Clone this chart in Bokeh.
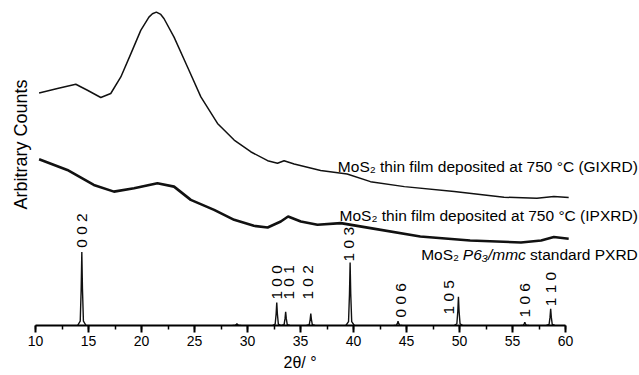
import math
from bokeh.plotting import figure
from bokeh.models import Range1d, SingleIntervalTicker, Title
from bokeh.core.properties import value
from bokeh.embed import file_html
from bokeh.resources import INLINE

# ---------------- data (2-theta in degrees, arbitrary counts) ----------------
gix_theta = [10.34, 12.07, 13.8, 14.9, 16.16, 17.1, 18.05, 19.0, 19.93, 20.7, 21.03,
             21.4, 21.82, 22.13, 23.07, 24.34, 25.6, 27.17, 28.74, 30.3, 31.9, 32.83,
             33.45, 34.4, 36.9, 39.4, 41.6, 44.8, 49.5, 54.2, 57.3, 58.9, 60.3]
gix_counts = [233.3, 237.7, 242.0, 236.0, 228.7, 232.7, 249.3, 272.7, 296.0, 309.3, 312.7,
              314.3, 312.0, 307.7, 289.3, 259.3, 229.3, 202.7, 186.0, 174.3, 165.3, 162.7,
              165.3, 162.0, 155.5, 152.0, 144.3, 139.3, 134.3, 128.7, 127.7, 129.3, 128.3]

ipx_theta = [10.34, 13.0, 15.5, 17.4, 19.3, 21.5, 23.07, 24.65, 26.85, 28.74, 30.6, 31.9,
             33.14, 33.83, 35.03, 36.6, 38.8, 41.6, 46.3, 51.0, 55.8, 57.7, 58.9, 60.3]
ipx_counts = [166.7, 156.0, 141.0, 134.3, 137.7, 142.7, 139.3, 126.0, 116.0, 106.0, 100.0, 98.3,
              104.3, 109.3, 104.3, 101.0, 102.7, 97.7, 89.3, 85.3, 83.3, 85.3, 88.7, 87.0]

std_theta = [14.37, 29.0, 32.76, 33.6, 35.97, 39.68, 44.2, 49.9, 56.16, 58.6]
std_height = [73.7, 2.0, 23.0, 13.7, 12.0, 63.3, 4.3, 28.7, 3.3, 16.7]

hkl_labels = ["0 0 2", "1 0 0", "1 0 1", "1 0 2", "1 0 3", "0 0 6", "1 0 5", "1 0 6", "1 1 0"]
hkl_label_theta = [14.32, 32.72, 33.85, 35.64, 39.56, 44.46, 49.0, 56.1, 58.62]
hkl_label_base = [78.0, 26.0, 26.0, 26.0, 64.3, 8.0, 11.0, 8.0, 19.3]

x_tick_interval = 5
x_axis_bounds = (10, 60)

# ---------------- figure ----------------
W, H = 639, 375
FONT = "Liberation Sans"
p = figure(width=W, height=H, output_backend="svg", toolbar_location=None,
           x_range=Range1d(10.0, 66.98), y_range=Range1d(0, 326),
           y_axis_location=None,
           min_border_left=35, min_border_right=0,
           min_border_top=0, min_border_bottom=49)
p.outline_line_color = None
p.xgrid.visible = False
p.ygrid.visible = False
p.background_fill_color = "white"
p.border_fill_color = "white"

ax = p.xaxis[0]
ax.ticker = SingleIntervalTicker(interval=x_tick_interval, num_minor_ticks=2)
ax.bounds = x_axis_bounds
ax.axis_line_width = 2
ax.axis_line_color = "black"
ax.major_tick_in = 0
ax.major_tick_out = 7
ax.major_tick_line_width = 2
ax.minor_tick_in = 0
ax.minor_tick_out = 4
ax.minor_tick_line_width = 1.5
ax.major_label_text_font = FONT
ax.major_label_text_font_size = "14px"
ax.major_label_text_color = "black"
ax.major_label_standoff = 3

# axis titles as side-panel titles (positioned along the axis)
p.add_layout(Title(text="2\u03b8/ \u00b0", align="left", offset=248, vertical_align="middle",
                   standoff=8, text_font=FONT, text_font_size="16px",
                   text_font_style="normal", text_color="black"), "below")
p.add_layout(Title(text="Arbitrary Counts", align="left", offset=116, vertical_align="middle",
                   standoff=7, text_font=FONT, text_font_size="18px",
                   text_font_style="normal", text_color="black"), "left")

# curves
p.line(gix_theta, gix_counts, line_color="#111111", line_width=1.5)
p.line(ipx_theta, ipx_counts, line_color="#111111", line_width=2.6)

# standard pattern peaks (narrow profiles)
prof_dx = [-0.4, -0.15, -0.06, 0.0, 0.06, 0.15, 0.4]
prof_f = [0.0, 0.06, 0.5, 1.0, 0.5, 0.06, 0.0]
xs = [[t + d for d in prof_dx] for t in std_theta]
ys = [[h * f for f in prof_f] for h in std_height]
p.multi_line(xs, ys, line_color="#111111", line_width=1.4)

# hkl labels
p.text(x=hkl_label_theta, y=hkl_label_base, text=hkl_labels, angle=math.pi / 2,
       text_align="left", text_baseline="middle",
       text_font=value(FONT), text_font_size=value("15.5px"), text_color="black")

# series annotations
FS = 15.5
right_x = 10 + (637 - 34.7) / 10.6
p.text(x=[right_x, right_x], y=[159, 110],
       text=["MoS\u2082 thin film deposited at 750 \u00b0C (GIXRD)",
             "MoS\u2082 thin film deposited at 750 \u00b0C (IPXRD)"],
       text_align="right", text_baseline="alphabetic",
       text_font=value(FONT), text_font_size=value("15.5px"), text_color="black")

# standard label in three pieces (italic space group)
sp = 0.278 * FS
w_std = (0.5 + 0.278 + 0.556 + 0.556 + 0.556 + 0.556 + 0.333 + 0.556 + 0.278
         + 0.667 + 0.667 + 0.722 + 0.722) * FS
w_sg = (0.667 + 0.556 + 0.36 + 0.278 + 0.833 + 0.833 + 0.5) * FS
p.text(x=[right_x], y=[63], text=["standard PXRD"], text_align="right",
       text_font=value(FONT), text_font_size=value("15.5px"), text_color="black")
p.text(x=[right_x], y=[63], text=["P6\u2083/mmc"], text_align="right", x_offset=-(w_std + sp),
       text_font=value(FONT), text_font_style="italic",
       text_font_size=value("15.5px"), text_color="black")
p.text(x=[right_x], y=[63], text=["MoS\u2082"], text_align="right",
       x_offset=-(w_std + w_sg + 2 * sp),
       text_font=value(FONT), text_font_size=value("15.5px"), text_color="black")

open("out.html", "w").write(file_html(p, INLINE))
